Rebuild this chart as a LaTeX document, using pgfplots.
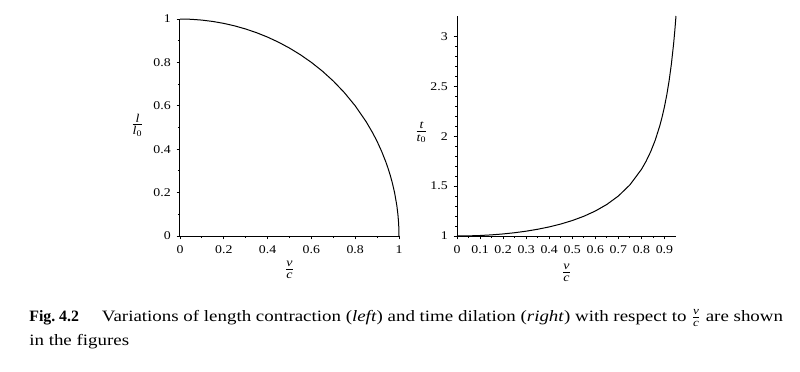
\documentclass[border=0pt]{standalone}
\usepackage{amsmath}
\usepackage{fontspec}
\setmainfont{Liberation Serif}[FakeStretch=1.17]
\newfontfamily\plainserif{Liberation Serif}
\newfontfamily\capserif{Liberation Serif}[FakeStretch=1.195]
\usepackage{pgfplots}
\pgfplotsset{compat=1.18}
\begin{document}
\begin{tikzpicture}
\path[use as bounding box] (0,0) rectangle (480pt,-222.6pt);
\pgfplotsset{myax/.style={scale only axis, axis lines*=left, tick align=outside,
  major tick length=2pt, minor tick length=1.3pt,
  axis line style={line width=0.6pt},
  every tick/.style={black, line width=0.5pt},
  tick label style={font=\fontsize{7.1}{8}\selectfont},
  /pgf/number format/assume math mode=true, clip=false}}
\begin{axis}[myax, at={(108pt,-141.6pt)}, anchor=south west,
  width=131.4pt, height=130.2pt, xmin=0, xmax=1, ymin=0, ymax=1,
  xtick={0,0.2,0.4,0.6,0.8,1}, ytick={0,0.2,0.4,0.6,0.8,1},
  minor x tick num=1, minor y tick num=1]
\addplot[black, line width=0.6pt] coordinates {
(0,1) (0.05,0.99875) (0.1,0.99499) (0.15,0.98869) (0.2,0.97980) (0.25,0.96825)
(0.3,0.95394) (0.35,0.93675) (0.4,0.91652) (0.45,0.89303) (0.5,0.86603)
(0.55,0.83516) (0.6,0.8) (0.65,0.75993) (0.7,0.71414) (0.75,0.66144)
(0.8,0.6) (0.85,0.52678) (0.88,0.47497) (0.9,0.43589) (0.92,0.39192)
(0.94,0.34117) (0.95,0.31225) (0.96,0.28) (0.97,0.24310) (0.98,0.19900)
(0.99,0.14107) (0.995,0.09987) (0.998,0.06322) (0.9995,0.03162) (1,0)};
\node[inner sep=0] at (rel axis cs:-0.194,0.51) {\fontsize{10.2}{12}\selectfont$\frac{\textit{l}}{\textit{l}_{\textrm{0}}}$};
\node[inner sep=0] at (rel axis cs:0.5,-0.157) {\fontsize{10.2}{12}\selectfont$\frac{\textit{v}}{\textit{c}}$};
\end{axis}
\begin{axis}[myax, at={(274.2pt,-141.6pt)}, anchor=south west,
  width=131.4pt, height=132pt, xmin=0, xmax=0.95, ymin=1, ymax=3.2026,
  xtick={0,0.1,0.2,0.3,0.4,0.5,0.6,0.7,0.8,0.9}, ytick={1,1.5,2,2.5,3},
  minor x tick num=1, minor y tick num=4]
\addplot[black, line width=0.6pt] coordinates {
(0,1) (0.05,1.00125) (0.1,1.00504) (0.15,1.01144) (0.2,1.02062) (0.25,1.03280)
(0.3,1.04828) (0.35,1.06752) (0.4,1.09109) (0.45,1.11978) (0.5,1.15470)
(0.55,1.19737) (0.6,1.25) (0.65,1.31590) (0.7,1.40028) (0.75,1.51186)
(0.8,1.66667) (0.82,1.74714) (0.84,1.84302) (0.86,1.95965) (0.88,2.10538)
(0.89,2.19317) (0.9,2.29416) (0.91,2.41192) (0.92,2.55155) (0.93,2.72065)
(0.94,2.93105) (0.945,3.05743) (0.95,3.20256)};
\node[inner sep=0] at (rel axis cs:-0.162,0.47) {\fontsize{10.2}{12}\selectfont$\frac{\textit{t}}{\textit{t}_{\textrm{0}}}$};
\node[inner sep=0] at (rel axis cs:0.5,-0.168) {\fontsize{10.2}{12}\selectfont$\frac{\textit{v}}{\textit{c}}$};
\end{axis}
\node[anchor=base west, inner sep=0, font=\fontsize{9.5}{12}\capserif] at (17.4pt,-192.6pt)
 {{\plainserif\bfseries Fig.~4.2}\hspace{1.45em}Variations of length contraction (\textit{left}) and time dilation (\textit{right}) with respect to $\frac{\textit{v}}{\textit{c}}$ are shown};
\node[anchor=base west, inner sep=0, font=\fontsize{9.5}{12}\capserif] at (17.4pt,-207pt)
 {in the figures};
\end{tikzpicture}
\end{document}
